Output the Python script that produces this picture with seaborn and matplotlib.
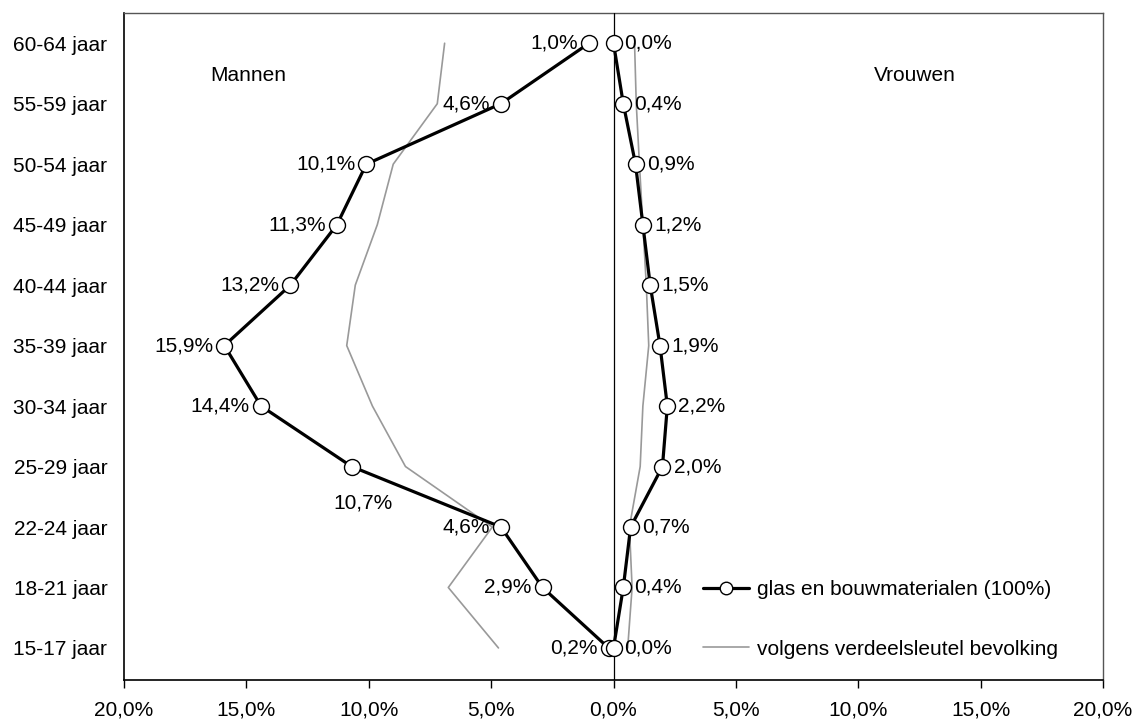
import matplotlib
matplotlib.use("Agg")
import matplotlib.pyplot as plt
import seaborn as sns
import pandas as pd
import numpy as np

# ---- data ----
age_groups = ["15-17 jaar", "18-21 jaar", "22-24 jaar", "25-29 jaar", "30-34 jaar",
              "35-39 jaar", "40-44 jaar", "45-49 jaar", "50-54 jaar", "55-59 jaar", "60-64 jaar"]
men_sector = [0.2, 2.9, 4.6, 10.7, 14.4, 15.9, 13.2, 11.3, 10.1, 4.6, 1.0]
women_sector = [0.0, 0.4, 0.7, 2.0, 2.2, 1.9, 1.5, 1.2, 0.9, 0.4, 0.0]
men_population = [4.7, 6.75, 4.95, 8.5, 9.85, 10.9, 10.55, 9.65, 9.0, 7.2, 6.9]
women_population = [0.58, 0.76, 0.65, 1.09, 1.2, 1.44, 1.34, 1.2, 1.06, 0.93, 0.86]
x_ticks = [-20, -15, -10, -5, 0, 5, 10, 15, 20]
x_tick_labels = ["20,0%", "15,0%", "10,0%", "5,0%", "0,0%", "5,0%", "10,0%", "15,0%", "20,0%"]
legend_sector = "glas en bouwmaterialen (100%)"
legend_population = "volgens verdeelsleutel bevolking"

sns.set_theme(style="white", rc={"text.color": "black", "xtick.color": "black",
                                 "ytick.color": "black", "axes.labelcolor": "black"})
plt.rcParams["font.family"] = ["Liberation Sans", "DejaVu Sans"]
FS = 15

ypos = np.arange(len(age_groups))
df_men = pd.DataFrame({"x": -np.array(men_sector), "y": ypos})
df_women = pd.DataFrame({"x": np.array(women_sector), "y": ypos})
dp_men = pd.DataFrame({"x": -np.array(men_population), "y": ypos})
dp_women = pd.DataFrame({"x": np.array(women_population), "y": ypos})

fig = plt.figure(figsize=(11.38, 7.25), dpi=100)
ax = fig.add_axes([124 / 1138, 45 / 725, (1103 - 124) / 1138, (680 - 13) / 725])

gray = "#999999"
sns.lineplot(data=dp_men, x="x", y="y", sort=False, estimator=None, ax=ax,
             color=gray, lw=1.2, zorder=2)
sns.lineplot(data=dp_women, x="x", y="y", sort=False, estimator=None, ax=ax,
             color=gray, lw=1.2, zorder=2)

mk = dict(marker="o", markersize=11.5, markerfacecolor="white",
          markeredgecolor="black", markeredgewidth=1.0)
sns.lineplot(data=df_men, x="x", y="y", sort=False, estimator=None, ax=ax,
             color="black", lw=2.3, zorder=4, **mk)
sns.lineplot(data=df_women, x="x", y="y", sort=False, estimator=None, ax=ax,
             color="black", lw=2.3, zorder=4, **mk)

ax.axvline(0, color="black", lw=0.9, zorder=3)

def fmt(v):
    return f"{v:.1f}".replace(".", ",") + "%"

for i, v in enumerate(men_sector):
    if age_groups[i] == "25-29 jaar":
        ax.annotate(fmt(v), (-v, i), xytext=(8, -26), textcoords="offset points",
                    ha="center", va="center", fontsize=FS, color="black", zorder=6)
    else:
        ax.annotate(fmt(v), (-v, i), xytext=(-8, 0), textcoords="offset points",
                    ha="right", va="center", fontsize=FS, color="black", zorder=6)
for i, v in enumerate(women_sector):
    ax.annotate(fmt(v), (v, i), xytext=(8, 0), textcoords="offset points",
                ha="left", va="center", fontsize=FS, color="black", zorder=6)

ax.text(-14.93, 9.47, "Mannen", ha="center", va="center", fontsize=FS, color="black")
ax.text(12.3, 9.47, "Vrouwen", ha="center", va="center", fontsize=FS, color="black")

ax.set_xlim(-20, 20)
ax.set_ylim(-0.53, 10.5)
ax.set_xticks(x_ticks)
ax.set_xticklabels(x_tick_labels, fontsize=FS)
ax.set_yticks(ypos)
ax.set_yticklabels(age_groups, fontsize=FS)
ax.set_xlabel("")
ax.set_ylabel("")
ax.tick_params(axis="x", direction="out", length=6, width=1, color="black",
               labelcolor="black", pad=9, bottom=True)
ax.tick_params(axis="y", length=0, pad=12, labelcolor="black")
for side in ["left", "bottom"]:
    ax.spines[side].set_color("black")
    ax.spines[side].set_linewidth(1.2)
for side in ["top", "right"]:
    ax.spines[side].set_color("#555555")
    ax.spines[side].set_linewidth(1.0)

from matplotlib.lines import Line2D
handles = [Line2D([], [], color="black", lw=2.3, marker="o", markersize=9,
                  markerfacecolor="white", markeredgecolor="black", markeredgewidth=1.0),
           Line2D([], [], color=gray, lw=1.2)]
leg = ax.legend(handles, [legend_sector, legend_population], loc="upper left",
                bbox_to_anchor=((703 - 124) / 979, (680 - 580) / 667), frameon=False,
                fontsize=FS, handlelength=2.2, handletextpad=0.4, labelspacing=1.95,
                borderaxespad=0, borderpad=0)
for t in leg.get_texts():
    t.set_color("black")

fig.savefig("out.png", dpi=100, facecolor="white")
